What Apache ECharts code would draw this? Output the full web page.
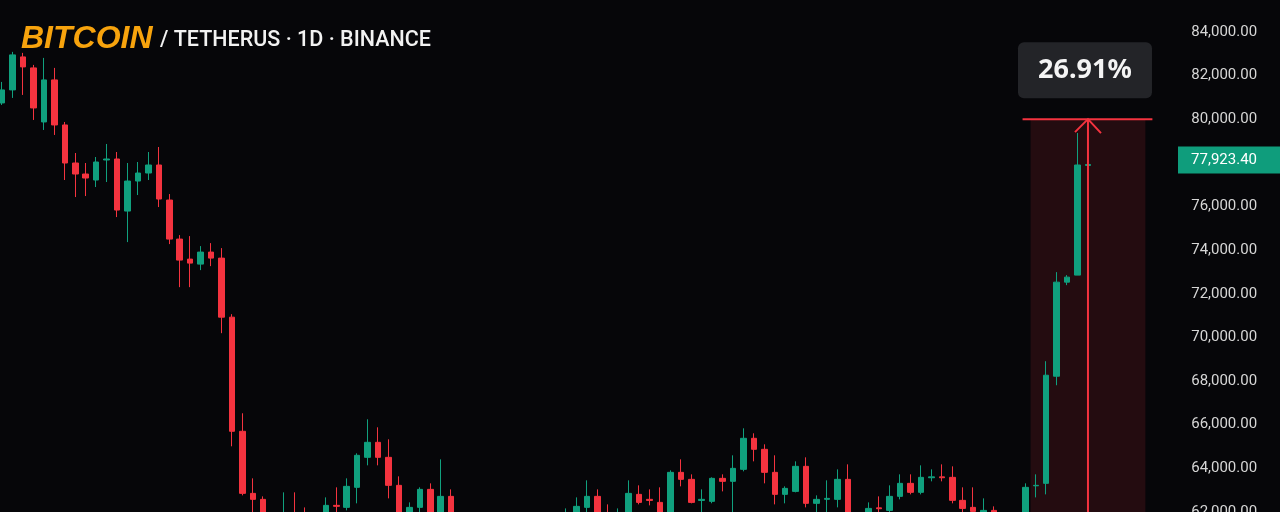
<!DOCTYPE html>
<html><head><meta charset="utf-8">
<script src="https://cdn.jsdelivr.net/npm/echarts@6/dist/echarts.min.js"></script>
<style>html,body{margin:0;padding:0;background:#060609;}#c{width:1280px;height:512px;}</style>
</head><body><div id="c"></div>
<script>
// ---- data (daily candles, BTC/USDT) ----
const opens  = [80743,81340,82853,82349,79872,81798,79734,77991,77486,77211,78130,78175,75789,77165,77532,77900,76294,74505,73588,73358,73909,73633,70927,65698,62854,62579,61200,61600,61750,61100,60700,61300,62304,62212,63130,64505,65193,64505,63221,61700,62212,63037,61600,62716,61500,60800,61200,60500,60900,60400,60700,61100,60600,61000,61400,61600,62212,62716,61700,61200,61800,62808,62580,62441,61700,63817,63496,62530,62487,63542,63405,63955,65377,64872,63817,62808,62945,64092,62396,62580,62579,63496,61700,61500,62190,62074,62716,63313,62900,63570,63610,63588,62533,62212,61800,62074,61800,61300,61700,63200,63313,68221,72532,72854,77880];
const closes = [81340,82945,82394,80514,81798,79734,77991,77486,77303,78037,78175,75835,77165,77532,77900,76340,74505,73542,73404,73909,73633,70927,65698,62854,62579,61200,61600,61750,61100,60700,61300,62304,62260,63175,64597,65193,64505,63221,61800,62212,63037,61600,62716,61500,60800,61200,60500,60900,60400,60700,61100,60600,61000,61400,61600,62258,62716,61700,61200,61800,62854,62441,62530,61700,63817,63496,62441,62580,63542,63405,64000,65377,64872,63817,62808,63083,64092,62396,62579,62625,63496,61700,61300,62165,62150,62716,63313,62900,63588,63610,63570,62533,62165,62028,62074,61800,61300,61700,63130,63221,68267,72532,72762,77900,77923.40];
const lows   = [80651,80973,81110,79963,79505,79276,77211,76431,76477,76890,77119,75514,74367,76523,77211,75973,74275,72303,72303,73083,73266,70193,65010,62762,61500,60500,60800,60900,60600,60100,60300,61000,61700,62074,62396,64138,64138,62625,61300,61200,61900,61200,61100,61000,60300,60400,60000,60100,59800,60000,60300,60200,60300,60700,60900,61100,61900,61300,60800,60900,61500,62350,62304,61400,61400,63175,62396,61800,62400,62945,61800,63863,64321,63313,62350,62396,62900,62212,61900,61800,62212,61300,61000,61200,61800,61900,62579,62808,62808,63405,63405,62396,61900,61800,61500,61400,61000,60900,61500,62670,62808,67808,72395,72854,77716];
const highs  = [81706,83083,83037,82486,82807,82349,79872,78450,77991,78266,78863,78496,77991,78037,78496,78725,76569,74688,74642,74184,74321,74092,71064,66524,63542,62716,61850,62900,62900,62210,61800,62670,63130,63542,64689,66249,65881,65331,63634,62441,63130,63313,64413,63037,61700,61600,61400,61300,61200,61100,61500,61400,61500,61800,62165,62670,63450,63037,62350,62165,63450,63221,63037,63130,63909,64413,63726,63037,63588,63726,64597,65835,65606,65101,64597,63175,64321,64505,62762,63450,63955,64184,61900,62441,62716,63221,63726,63726,64138,63955,64184,64092,63130,63130,62625,62258,61950,61900,63313,63726,68909,72991,72854,79367,77991];
const futureSlots = 18;           // empty days to the right of the last candle
const lastPrice = 77923.40;
const measureTop = 80000;         // top of the measuring box
const measureLabel = '26.91%';
const measureStartIdx = 99, measureEndIdx = 109;
const titleMain = 'BITCOIN';
const titleSub = '/ TETHERUS · 1D · BINANCE';
const yMin = 62000, yMax = 85460, yStep = 2000;

const categories = [];
for (let i = 0; i < opens.length + futureSlots; i++) categories.push('D' + (i + 1));
const ohlc = opens.map((o, i) => [o, closes[i], lows[i], highs[i]]);

const UP = '#10a07e', DOWN = '#f4333f';
const chart = echarts.init(document.getElementById('c'), null, {renderer: 'canvas'});
const bandW = 10.44;
chart.setOption({
  backgroundColor: '#060609',
  animation: false,
  grid: {left: -3, top: 0, width: categories.length * bandW, height: 512, containLabel: false, outerBoundsMode: 'none'},
  xAxis: {type: 'category', data: categories, show: false, boundaryGap: true},
  yAxis: {
    type: 'value', position: 'right', min: yMin, max: yMax, interval: yStep,
    axisLine: {show: false}, axisTick: {show: false}, splitLine: {show: false},
    axisLabel: {
      inside: true, margin: 24, color: '#d6d6d6', fontSize: 15, fontFamily: 'Roboto',
      formatter: v => (v % yStep === 0 ? v.toLocaleString('en-US', {minimumFractionDigits: 2, maximumFractionDigits: 2}) : '')
    }
  },
  series: [{
    type: 'candlestick', data: ohlc, barWidth: 6, clip: true,
    itemStyle: {color: UP, color0: DOWN, borderColor: UP, borderColor0: DOWN, borderWidth: 1}
  }]
});

const px = (i, p) => chart.convertToPixel({gridIndex: 0}, [i, p]);
const half = (px(1, yMin)[0] - px(0, yMin)[0]) / 2;
const xL = px(measureStartIdx, measureTop)[0] - half;
const xR = px(measureEndIdx, measureTop)[0] + half;
const yT = px(0, measureTop)[1];
const xV = px(opens.length - 1, yMin)[0];
const yP = px(0, lastPrice)[1];
const fmt = v => v.toLocaleString('en-US', {minimumFractionDigits: 2, maximumFractionDigits: 2});

chart.setOption({
  graphic: [
    {type: 'rect', z: 0, shape: {x: xL, y: yT, width: xR - xL, height: 600}, style: {fill: 'rgba(242,54,69,0.13)'}},
    {type: 'line', z: 100, shape: {x1: xL - 8, y1: yT, x2: xR + 7, y2: yT}, style: {stroke: DOWN, lineWidth: 2}},
    {type: 'line', z: 100, shape: {x1: xV, y1: yT, x2: xV, y2: 600}, style: {stroke: DOWN, lineWidth: 2}},
    {type: 'polyline', z: 100, shape: {points: [[xV - 13, yT + 13], [xV, yT], [xV + 13, yT + 14]]}, style: {stroke: DOWN, lineWidth: 2, fill: null}},
    {type: 'rect', z: 100, shape: {x: (xL + xR) / 2 - 70, y: yT - 77, width: 134, height: 56, r: 6}, style: {fill: '#232428'}},
    {type: 'text', z: 101, style: {x: (xL + xR) / 2 - 3, y: yT - 48.5, text: measureLabel, fill: '#f4f4f4', font: 'bold 27px "Noto Sans"', align: 'center', verticalAlign: 'middle'}},
    {type: 'rect', z: 100, shape: {x: 1178, y: yP - 18, width: 102, height: 27}, style: {fill: '#0f9d7c'}},
    {type: 'text', z: 101, style: {x: 1257, y: yP - 4, text: fmt(lastPrice), fill: '#ffffff', font: '15px Roboto', align: 'right', verticalAlign: 'middle'}},
    {type: 'text', z: 101, style: {x: 21, y: 39, text: titleMain, fill: '#f7a30d', font: 'italic bold 32px "Liberation Sans"', align: 'left', verticalAlign: 'middle'}},
    {type: 'text', z: 101, style: {x: 160, y: 41, text: titleSub, fill: '#f2f2f2', font: '500 21.5px Roboto', align: 'left', verticalAlign: 'middle'}}
  ]
});
</script></body></html>
